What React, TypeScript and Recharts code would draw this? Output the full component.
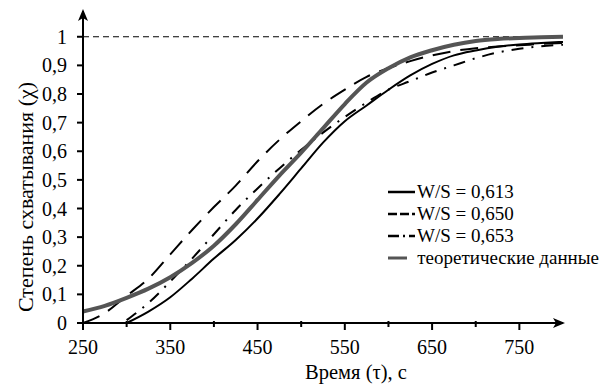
import { Legend, Line, LineChart, ReferenceLine, XAxis, YAxis } from "recharts";

const times = [250, 275, 300, 325, 350, 375, 400, 425, 450, 475, 500, 525, 550, 575, 600, 625, 650, 675, 700, 725, 750, 775, 800];
const ws613 = [null, null, 0, 0.04, 0.09, 0.155, 0.225, 0.29, 0.365, 0.45, 0.54, 0.63, 0.705, 0.76, 0.815, 0.865, 0.905, 0.935, 0.952, 0.965, 0.973, 0.978, 0.982];
const ws650 = [0, 0.035, 0.095, 0.155, 0.24, 0.325, 0.405, 0.48, 0.565, 0.64, 0.705, 0.765, 0.815, 0.86, 0.89, 0.915, 0.935, 0.95, 0.96, 0.966, 0.97, 0.975, 0.978];
const ws653 = [null, null, 0.01, 0.07, 0.145, 0.225, 0.31, 0.395, 0.47, 0.54, 0.605, 0.665, 0.72, 0.77, 0.815, 0.845, 0.875, 0.9, 0.925, 0.945, 0.958, 0.967, 0.972];
const theory = [0.04, 0.06, 0.088, 0.12, 0.16, 0.21, 0.27, 0.345, 0.43, 0.515, 0.595, 0.68, 0.765, 0.84, 0.89, 0.928, 0.953, 0.972, 0.985, 0.992, 0.996, 0.998, 1.0];

const xTicks = [250, 300, 350, 400, 450, 500, 550, 600, 650, 700, 750];
const yTicks = [0, 0.1, 0.2, 0.3, 0.4, 0.5, 0.6, 0.7, 0.8, 0.9, 1];

const series = [
    { key: "ws613", name: "W/S = 0,613", color: "#000", width: 2, dash: undefined, legendDash: undefined },
    { key: "ws650", name: "W/S = 0,650", color: "#000", width: 2, dash: "18 10", legendDash: "9 3" },
    { key: "ws653", name: "W/S = 0,653", color: "#000", width: 2, dash: "12 8 2 8", legendDash: "11 4 2 4" },
    { key: "theory", name: "теоретические данные", color: "#555", width: 4, dash: undefined, legendDash: undefined }
];

const data = times.map((t, i) => ({
    t,
    ws613: ws613[i],
    ws650: ws650[i],
    ws653: ws653[i],
    theory: theory[i]
}));

const FONT = '"Liberation Serif", serif';

function XTick({ x, y, payload }: any) {
    const major = (payload.value - 250) % 100 === 0;
    return (
        <g>
            <line x1={x} x2={x} y1={major ? y : y - 2} y2={major ? y + 7 : y + 4} stroke="#000" strokeWidth={2} />
            {major && (
                <text x={x} y={y + 31} textAnchor="middle" fontFamily={FONT} fontSize={20} fill="#000">
                    {payload.value}
                </text>
            )}
        </g>
    );
}

function YTick({ x, y, payload }: any) {
    return (
        <g>
            <line x1={x - 6} x2={x} y1={y} y2={y} stroke="#000" strokeWidth={2} />
            <text x={x - 16} y={y} dy="0.35em" textAnchor="end" fontFamily={FONT} fontSize={20} fill="#000">
                {String(payload.value).replace(".", ",")}
            </text>
        </g>
    );
}

function LegendBox() {
    return (
        <div style={{ fontFamily: FONT, fontSize: 19, color: "#000", lineHeight: "22px", whiteSpace: "nowrap" }}>
            {series.map((s) => (
                <div key={s.key} style={{ display: "flex", alignItems: "center", height: 22 }}>
                    <svg width={27} height={10} style={{ marginRight: s.key === "theory" ? 10 : 2 }}>
                        <line x1={0} x2={27} y1={5} y2={5} stroke={s.color} strokeWidth={s.width === 4 ? 3 : 2.5} strokeDasharray={s.legendDash} />
                    </svg>
                    <span>{s.name}</span>
                </div>
            ))}
        </div>
    );
}

export default function App() {
    return (
        <div style={{ width: 599, height: 384, background: "#fff" }}>
            <style>{"body{margin:0}"}</style>
            <LineChart width={599} height={384} data={data} margin={{ top: 11, right: 36, left: 23, bottom: 21 }}>
                <defs>
                    <marker id="arrowHead" viewBox="0 0 12 10" refX={10} refY={5} markerWidth={12} markerHeight={10} markerUnits="userSpaceOnUse" orient="auto-start-reverse">
                        <path d="M0,0 L12,5 L0,10 L3,5 z" fill="#000" />
                    </marker>
                </defs>
                <XAxis
                    dataKey="t"
                    type="number"
                    domain={[250, 800]}
                    ticks={xTicks}
                    interval={0}
                    height={40}
                    tickSize={0}
                    tickMargin={0}
                    tickLine={false}
                    tick={<XTick />}
                    axisLine={{ stroke: "#000", strokeWidth: 2, markerEnd: "url(#arrowHead)" }}
                    label={{
                        content: () => (
                            <text x={356} y={379} textAnchor="middle" fontFamily={FONT} fontSize={20.5} fill="#000">
                                Время (τ), с
                            </text>
                        )
                    }}
                />
                <YAxis
                    type="number"
                    domain={[0, 1.09]}
                    ticks={yTicks}
                    interval={0}
                    width={60}
                    tickSize={0}
                    tickMargin={0}
                    tickLine={false}
                    tick={<YTick />}
                    axisLine={{ stroke: "#000", strokeWidth: 2, markerStart: "url(#arrowHead)" }}
                    label={{
                        content: () => (
                            <text x={25} y={197} transform="rotate(-90 25 197)" dy="0.35em" textAnchor="middle" fontFamily={FONT} fontSize={22} fill="#000">
                                Степень схватывания (χ)
                            </text>
                        )
                    }}
                />
                <ReferenceLine y={1} stroke="#000" strokeWidth={1} strokeDasharray="6 4" />
                {series.map((s) => (
                    <Line
                        key={s.key}
                        type="monotone"
                        dataKey={s.key}
                        name={s.name}
                        stroke={s.color}
                        strokeWidth={s.width}
                        strokeDasharray={s.dash}
                        dot={false}
                        activeDot={false}
                        isAnimationActive={false}
                    />
                ))}
                <Legend
                    layout="vertical"
                    align="center"
                    verticalAlign="middle"
                    content={<LegendBox />}
                    wrapperStyle={{ left: 388, top: 181, width: 211 }}
                />
            </LineChart>
        </div>
    );
}
